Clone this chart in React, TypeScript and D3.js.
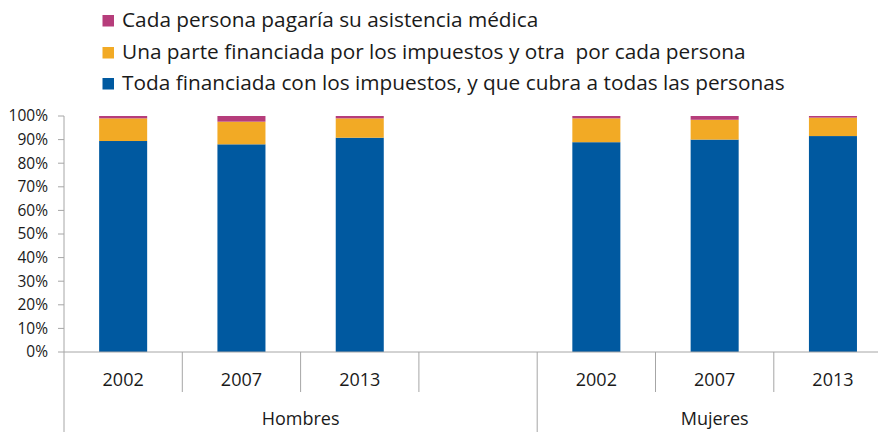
import React from "react";
import * as d3 from "d3";

const slots = ["H2002", "H2007", "H2013", "Hgap", "M2002", "M2007", "M2013"];
const slotLabels = ["2002", "2007", "2013", "", "2002", "2007", "2013"];
const groups = ["Hombres", "Mujeres"];
const groupSpans = [[0, 4], [4, 7]];
const barSlots = ["H2002", "H2007", "H2013", "M2002", "M2007", "M2013"];
const todaImpuestos = [89.4, 88.0, 90.8, 88.9, 90.0, 91.5];
const unaParte = [9.6, 9.6, 8.2, 10.1, 8.4, 7.8];
const cadaPersona = [1.0, 2.4, 1.0, 1.0, 1.6, 0.7];
const seriesNames = [
  "Toda financiada con los impuestos, y que cubra a todas las personas",
  "Una parte financiada por los impuestos y otra  por cada persona",
  "Cada persona pagaría su asistencia médica",
];
const seriesColors = ["#0059A0", "#F2AA25", "#B63D7B"];
const yTicks = [0, 10, 20, 30, 40, 50, 60, 70, 80, 90, 100];

const W = 878;
const H = 432;
const FONT = "'Open Sans', sans-serif";

export default function App() {
  const x0 = 64;
  const step = 118.3;
  const x = d3.scaleBand<string>().domain(slots).range([x0, x0 + step * slots.length]).padding(0);
  const y = d3.scaleLinear().domain([0, 100]).range([352, 116]);
  const barW = x.bandwidth() * 0.406;

  const rows = barSlots.map((s, i) => ({
    slot: s,
    v: [todaImpuestos[i], unaParte[i], cadaPersona[i]],
  }));
  const stack = d3.stack<any>().keys(["0", "1", "2"]).value((d: any, k: string) => d.v[+k]);
  const stacked = stack(rows as any);

  const axisColor = "#A6A6A6";
  const textColor = "#1A1A1A";

  const legendOrder = [2, 1, 0];
  const legendBase = [27, 59, 90];

  return (
    <svg width={W} height={H} style={{ position: "absolute", left: 0, top: 0, background: "#fff" }} fontFamily={FONT}>
      {/* legend */}
      {legendOrder.map((si, i) => (
        <g key={si}>
          <rect x={102.5} y={legendBase[i] - 12} width={11.5} height={11.5} fill={seriesColors[si]} />
          <text x={122} y={legendBase[i]} fontSize={20.8} fill={textColor} style={{ whiteSpace: "pre" }}>
            {seriesNames[si]}
          </text>
        </g>
      ))}

      {/* bars */}
      {stacked.map((layer, li) => (
        <g key={li} fill={seriesColors[li]}>
          {layer.map((d: any, j: number) => (
            <rect
              key={j}
              x={(x(d.data.slot) as number) + (x.bandwidth() - barW) / 2}
              y={y(d[1])}
              width={barW}
              height={y(d[0]) - y(d[1])}
            />
          ))}
        </g>
      ))}

      {/* y axis */}
      <line x1={x0} x2={x0} y1={y(100)} y2={H} stroke={axisColor} strokeWidth={1} />
      {yTicks.map((t) => (
        <g key={t}>
          <line x1={x0 - 6} x2={x0} y1={y(t)} y2={y(t)} stroke={axisColor} />
          <text x={48} y={y(t)} dy="0.35em" textAnchor="end" fontSize={15.5} fill={textColor}>
            {t}%
          </text>
        </g>
      ))}

      {/* x axis */}
      <line x1={x0} x2={W} y1={y(0)} y2={y(0)} stroke={axisColor} />
      {slots.map((s, i) => {
        const left = x(s) as number;
        const isGroupEdge = groupSpans.some((g) => g[0] === i);
        return (
          <g key={s}>
            {i > 0 && (
              <line x1={left} x2={left} y1={y(0)} y2={isGroupEdge ? H : 392} stroke={axisColor} />
            )}
            <text x={left + x.bandwidth() / 2} y={386} textAnchor="middle" fontSize={18} fill={textColor}>
              {slotLabels[i]}
            </text>
          </g>
        );
      })}
      {groups.map((g, gi) => {
        const a = x(slots[groupSpans[gi][0]]) as number;
        const b = (x(slots[groupSpans[gi][1] - 1]) as number) + x.bandwidth();
        return (
          <text key={g} x={(a + b) / 2} y={425} textAnchor="middle" fontSize={18} fill={textColor}>
            {g}
          </text>
        );
      })}
    </svg>
  );
}
